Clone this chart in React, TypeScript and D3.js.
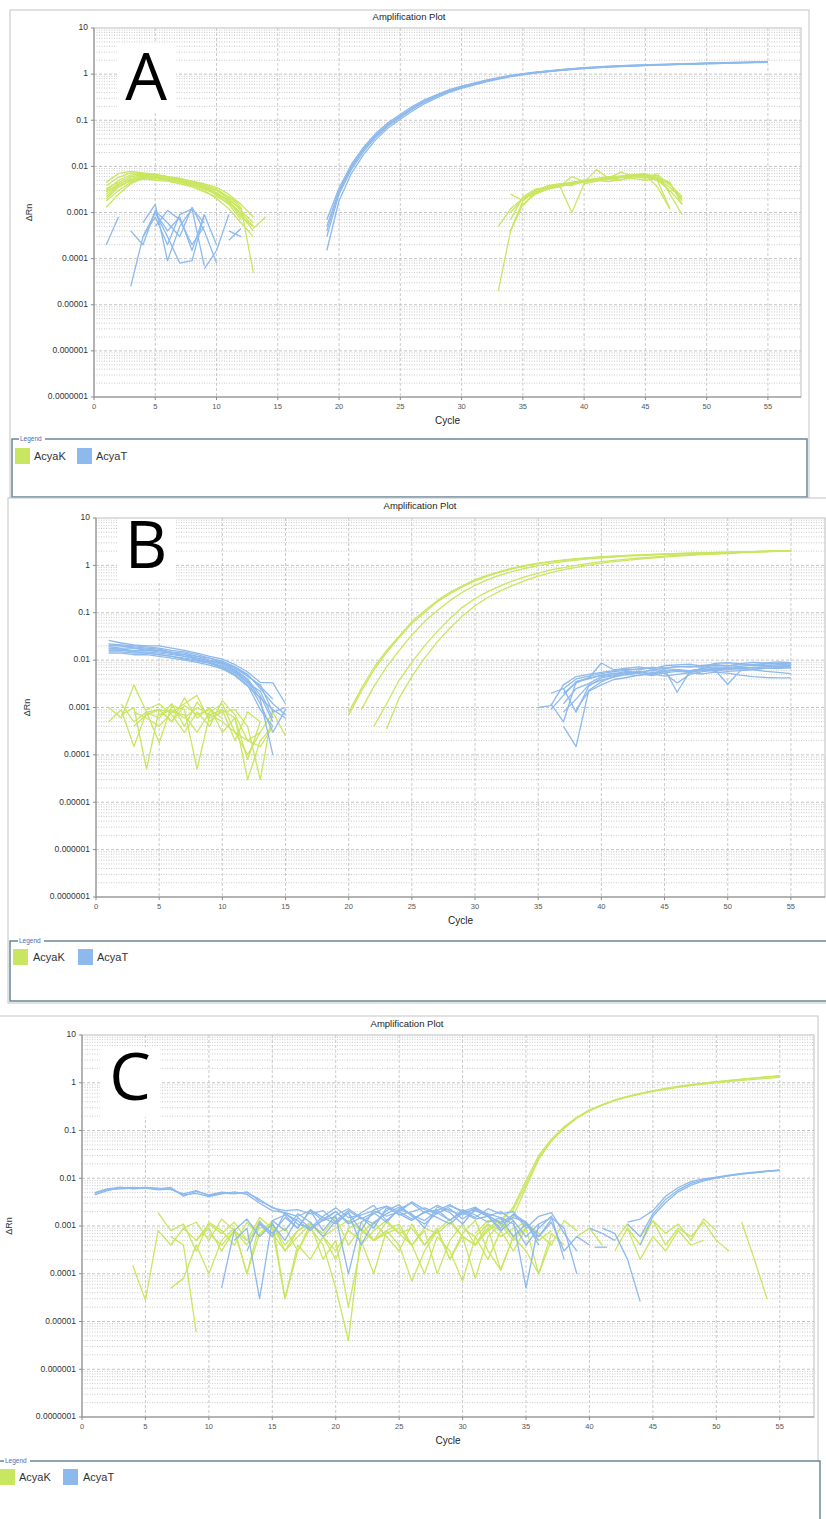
import React from "react";
import * as d3 from "d3";

type Trace = [number, (number | null)[]];

// ---------- labels / ticks ----------
const chartTitle = "Amplification Plot";
const xLabel = "Cycle";
const yLabel = "ΔRn";
const panelLetters = ["A", "B", "C"];
const seriesNames = ["AcyaK", "AcyaT"];
const seriesColors = ["#c9e660", "#8db9ec"];
const xTicks = [0, 5, 10, 15, 20, 25, 30, 35, 40, 45, 50, 55];
const yTicks = [10, 1, 0.1, 0.01, 0.001, 0.0001, 0.00001, 0.000001, 0.0000001];
const yTickLabels = ["10", "1", "0.1", "0.01", "0.001", "0.0001", "0.00001", "0.000001", "0.0000001"];
const xMax = 57.7;

// ---------- Panel A ----------
const aK: Trace[] = [
  [1, [0.0013, 0.0025, 0.0042, 0.0055, 0.006, 0.0058, 0.0055, 0.0045, 0.0035, 0.0027, 0.0018, 0.0009, 0.0004]],
  [1, [0.002, 0.0035, 0.005, 0.006, 0.0062, 0.006, 0.0052, 0.0046, 0.0038, 0.003, 0.002, 0.0011, 0.0006]],
  [1, [0.003, 0.005, 0.0065, 0.0068, 0.0065, 0.006, 0.0055, 0.0048, 0.004, 0.0032, 0.0022, 0.0013, 0.00005]],
  [1, [0.0038, 0.0058, 0.0072, 0.007, 0.0066, 0.0058, 0.005, 0.0045, 0.0036, 0.0026, 0.0017, 0.0008, 0.0005]],
  [1, [0.0045, 0.007, 0.0078, 0.0072, 0.0068, 0.006, 0.0052, 0.0047, 0.0042, 0.0035, 0.0025, 0.0015]],
  [1, [0.0025, 0.004, 0.0055, 0.0062, 0.0058, 0.0052, 0.0048, 0.0042, 0.0034, 0.0024, 0.0015, 0.0007]],
  [1, [0.0018, 0.003, 0.0045, 0.0058, 0.0055, 0.005, 0.0045, 0.0038, 0.003, 0.002, 0.0012, 0.0006, 0.0003]],
  [1, [0.0028, 0.0042, 0.0052, 0.0055, 0.005, 0.0048, 0.0042, 0.0036, 0.0028, 0.0022, 0.0016, 0.001, 0.0005]],
  [1, [0.0033, 0.0045, 0.006, 0.0065, 0.006, 0.0055, 0.0048, 0.004, 0.0032, 0.0025, 0.0019, 0.0012]],
  [1, [0.0022, 0.0038, 0.0048, 0.0052, 0.0055, 0.0054, 0.0047, 0.004, 0.0036, 0.003, 0.0022, 0.0015, 0.0008]],
  [13, [0.00045, 0.0008]],
  [33, [0.00002, 0.0004, 0.0018, 0.003, 0.0035, 0.004, 0.0045, 0.005, 0.0055, 0.006, 0.0062, 0.0065, 0.006, 0.005, 0.003, 0.0015]],
  [33, [0.0005, 0.0012, 0.002, 0.0028, 0.0033, 0.0038, 0.001, 0.0042, 0.0048, 0.0052, 0.0058, 0.006, 0.0055, 0.007, 0.0025, 0.0009]],
  [34, [0.0004, 0.0015, 0.0025, 0.0032, 0.0038, 0.0042, 0.0045, 0.0085, 0.0055, 0.005, 0.0062, 0.0058, 0.0052, 0.0035, 0.002]],
  [34, [0.0025, 0.0018, 0.003, 0.0036, 0.004, 0.0044, 0.0048, 0.005, 0.0056, 0.006, 0.0065, 0.007, 0.0048, 0.0012]],
  [34, [0.001, 0.002, 0.0026, 0.0034, 0.0036, 0.006, 0.0047, 0.0052, 0.0054, 0.0058, 0.0062, 0.0066, 0.0063, 0.0042, 0.0018]],
  [34, [0.0007, 0.0022, 0.0032, 0.0035, 0.0039, 0.0041, 0.0046, 0.0049, 0.0053, 0.0057, 0.0059, 0.0063, 0.0055, 0.0028]],
  [35, [0.0014, 0.0028, 0.0033, 0.004, 0.0045, 0.0048, 0.005, 0.0047, 0.0052, 0.0055, 0.005, 0.0055, 0.004, 0.0022]],
  [35, [0.002, 0.003, 0.0038, 0.0042, 0.0038, 0.005, 0.0053, 0.0056, 0.0075, 0.006, 0.0068, 0.0035, 0.0012]],
  [36, [0.0025, 0.0032, 0.0036, 0.0043, 0.0046, 0.0051, 0.0058, 0.006, 0.0062, 0.0066, 0.0058, 0.0045, 0.0015]],
];

const aT: Trace[] = [
  [1, [0.0002, 0.0008]],
  [3, [0.000025, 0.0003, 0.0008, 0.0002, 0.0009, 0.0012, 0.0006]],
  [4, [0.0003, 0.001, 0.0004, 0.0008, 0.00015, 0.0009]],
  [4, [0.0006, 0.0015, 0.00009, 0.0005, 0.0012, 0.00007]],
  [3, [0.0004, 0.0002, 0.0011, 0.0006, 0.0003, 0.0013, 0.0004, 0.00008]],
  [5, [0.001, 0.0003, 0.00008, 0.00009, 0.0009, 0.0002]],
  [5, [0.0005, 0.0011, 0.0007, 0.0002, 0.0005]],
  [9, [0.00006, 0.00015, 0.0009]],
  [11, [0.0004, 0.0003]],
  [11, [0.00025, 0.00045]],
  [19, [0.00015, 0.0018, 0.007, 0.018, 0.038, 0.068, 0.105, 0.16, 0.23, 0.31, 0.4, 0.49, 0.58, 0.68, 0.78, 0.88, 0.97, 1.05, 1.12, 1.19, 1.26, 1.32, 1.37, 1.42, 1.46, 1.5, 1.53, 1.56, 1.59, 1.62, 1.65, 1.68, 1.7, 1.73, 1.75, 1.77, 1.79]],
  [19, [0.0003, 0.0025, 0.0085, 0.021, 0.043, 0.075, 0.115, 0.175, 0.25, 0.33, 0.42, 0.51, 0.6, 0.7, 0.8, 0.9, 0.99, 1.07, 1.14, 1.21, 1.28, 1.34, 1.39, 1.44, 1.48, 1.52, 1.55, 1.58, 1.61, 1.64, 1.67, 1.7, 1.72, 1.75, 1.77, 1.79, 1.81]],
  [19, [0.0005, 0.003, 0.01, 0.024, 0.048, 0.082, 0.125, 0.185, 0.26, 0.345, 0.44, 0.53, 0.62, 0.72, 0.82, 0.92, 1.01, 1.09, 1.16, 1.23, 1.3, 1.36, 1.41, 1.46, 1.5, 1.54, 1.57, 1.6, 1.63, 1.66, 1.69, 1.72, 1.74, 1.77, 1.79, 1.81, 1.83]],
  [19, [0.0007, 0.0034, 0.011, 0.026, 0.052, 0.088, 0.135, 0.2, 0.28, 0.36, 0.46, 0.55, 0.64, 0.74, 0.84, 0.94, 1.03, 1.11, 1.18, 1.25, 1.32, 1.38, 1.43, 1.48, 1.52, 1.56, 1.59, 1.62, 1.65, 1.68, 1.71, 1.74, 1.76, 1.79, 1.81, 1.83, 1.85]],
  [19, [0.0004, 0.0028, 0.0095, 0.023, 0.046, 0.08, 0.12, 0.18, 0.255, 0.34, 0.43, 0.52, 0.61, 0.71, 0.81, 0.91, 1.0, 1.08, 1.15, 1.22, 1.29, 1.35, 1.4, 1.45, 1.49, 1.53, 1.56, 1.59, 1.62, 1.65, 1.68, 1.71, 1.73, 1.76, 1.78, 1.8, 1.82]],
];

// ---------- Panel B ----------
const bK: Trace[] = [
  [1, [0.001, 0.0006, 0.003, 0.0008, 0.0009, 0.0005, 0.0011, 0.0007, 0.0009, 0.0006]],
  [1, [0.0005, 0.0009, 0.00015, 0.0008, 0.0006, 0.0012, 0.0004, 0.0013, 0.0006, 0.0008, 0.0009, 0.0004, 0.00003, 0.0009]],
  [2, [0.0007, 0.001, 0.00005, 0.0009, 0.0008, 0.0007, 0.0003, 0.0008, 0.0012, 0.0003, 0.0001, 0.0003]],
  [2, [0.0012, 0.0005, 0.0008, 0.00018, 0.0011, 0.0009, 0.00005, 0.0007, 0.0009, 0.0006, 0.00008, 0.0005]],
  [3, [0.0004, 0.0007, 0.0009, 0.0005, 0.0016, 0.0006, 0.001, 0.0003, 0.0006, 0.00003, 0.0002, 0.0004]],
  [3, [0.0008, 0.0006, 0.0004, 0.0008, 0.0012, 0.0018, 0.0005, 0.0009, 0.0002, 0.0008, 0.0005]],
  [4, [0.0009, 0.0012, 0.0007, 0.0003, 0.0008, 0.0004, 0.0014, 0.0007, 0.0002, 0.0003, 0.0008, 0.00025]],
  [5, [0.0007, 0.0009, 0.0006, 0.001, 0.0007, 0.0005, 0.0003, 0.0002, 0.00015, 0.0004]],
  [20, [0.0008, 0.0025, 0.007, 0.016, 0.032, 0.065, 0.11, 0.18, 0.27, 0.37, 0.5, 0.62, 0.75, 0.88, 1.0, 1.12, 1.22, 1.3, 1.38, 1.45, 1.52, 1.57, 1.62, 1.66, 1.7, 1.74, 1.78, 1.81, 1.84, 1.87, 1.9, 1.93, 1.96, 1.99, 2.02, 2.05]],
  [20, [0.0007, 0.0022, 0.0062, 0.0145, 0.03, 0.06, 0.1, 0.17, 0.25, 0.35, 0.47, 0.59, 0.72, 0.85, 0.97, 1.09, 1.19, 1.28, 1.36, 1.43, 1.5, 1.56, 1.61, 1.65, 1.69, 1.73, 1.77, 1.8, 1.83, 1.86, 1.89, 1.92, 1.95, 1.98, 2.01, 2.04]],
  [21, [0.0009, 0.0028, 0.0072, 0.016, 0.034, 0.065, 0.11, 0.18, 0.27, 0.38, 0.5, 0.62, 0.75, 0.87, 0.99, 1.1, 1.2, 1.29, 1.37, 1.44, 1.5, 1.56, 1.61, 1.65, 1.7, 1.74, 1.78, 1.81, 1.85, 1.88, 1.91, 1.94, 1.97, 2.0, 2.03]],
  [22, [0.0004, 0.0012, 0.0038, 0.009, 0.02, 0.04, 0.075, 0.13, 0.2, 0.28, 0.37, 0.47, 0.58, 0.69, 0.8, 0.9, 1.0, 1.1, 1.2, 1.28, 1.36, 1.43, 1.5, 1.56, 1.62, 1.68, 1.73, 1.78, 1.83, 1.88, 1.92, 1.96, 2.0, 2.04]],
  [23, [0.00035, 0.0016, 0.0045, 0.011, 0.024, 0.047, 0.085, 0.14, 0.21, 0.29, 0.38, 0.48, 0.59, 0.7, 0.81, 0.91, 1.01, 1.11, 1.2, 1.28, 1.36, 1.43, 1.5, 1.56, 1.62, 1.68, 1.73, 1.78, 1.83, 1.88, 1.93, 1.98, 2.02]],
];

const bT: Trace[] = [
  [1, [0.026, 0.023, 0.021, 0.02, 0.02, 0.018, 0.016, 0.014, 0.012, 0.0105, 0.008, 0.0056, 0.0034, 0.0033, 0.0012]],
  [1, [0.022, 0.021, 0.02, 0.019, 0.018, 0.016, 0.015, 0.013, 0.011, 0.0095, 0.0072, 0.005, 0.0025, 0.0012, 0.0007]],
  [1, [0.02, 0.02, 0.019, 0.018, 0.017, 0.015, 0.014, 0.012, 0.011, 0.009, 0.0068, 0.0045, 0.003, 0.0008, 0.001]],
  [1, [0.019, 0.018, 0.018, 0.016, 0.016, 0.014, 0.013, 0.011, 0.0095, 0.0085, 0.0063, 0.004, 0.0018, 0.0005]],
  [1, [0.018, 0.017, 0.016, 0.016, 0.015, 0.014, 0.012, 0.011, 0.0095, 0.008, 0.006, 0.0038, 0.0015, 0.0001]],
  [1, [0.017, 0.017, 0.015, 0.015, 0.014, 0.013, 0.012, 0.0105, 0.009, 0.0075, 0.0057, 0.0035, 0.0012, 0.0003, 0.0009]],
  [1, [0.016, 0.016, 0.015, 0.014, 0.013, 0.012, 0.011, 0.01, 0.0088, 0.007, 0.0054, 0.0033, 0.0022, 0.0006]],
  [1, [0.015, 0.015, 0.014, 0.014, 0.013, 0.012, 0.0105, 0.0095, 0.0085, 0.0068, 0.005, 0.003, 0.0009, 0.0004]],
  [1, [0.014, 0.014, 0.013, 0.013, 0.012, 0.011, 0.01, 0.009, 0.0078, 0.0065, 0.0047, 0.0028, 0.0016, 0.0009, 0.0006]],
  [1, [0.021, 0.02, 0.018, 0.017, 0.016, 0.014, 0.013, 0.012, 0.01, 0.0088, 0.007, 0.0048, 0.0028, 0.0015]],
  [35, [0.001, 0.0011, 0.003, 0.0045, 0.005, 0.0055, 0.006, 0.0065, 0.0062, 0.007, 0.0068, 0.0072, 0.0075, 0.007, 0.0078, 0.0075, 0.008, 0.0078, 0.0082, 0.0085, 0.0088]],
  [36, [0.0012, 0.0005, 0.0035, 0.004, 0.0048, 0.0052, 0.0058, 0.0055, 0.0062, 0.0066, 0.0063, 0.0055, 0.0068, 0.0072, 0.007, 0.0074, 0.0078, 0.0076, 0.008, 0.0082]],
  [36, [0.002, 0.0025, 0.0008, 0.0028, 0.0042, 0.0047, 0.0053, 0.0058, 0.0051, 0.0064, 0.0021, 0.0058, 0.0062, 0.0068, 0.0066, 0.0065, 0.007, 0.0072, 0.0075, 0.0073]],
  [37, [0.0004, 0.00015, 0.0023, 0.0035, 0.0045, 0.0052, 0.0056, 0.005, 0.0058, 0.0062, 0.006, 0.0065, 0.0058, 0.0067, 0.0071, 0.0068, 0.0073, 0.0075, 0.0078]],
  [37, [0.0008, 0.0015, 0.003, 0.0038, 0.0044, 0.005, 0.0047, 0.0055, 0.0053, 0.0033, 0.005, 0.0057, 0.0061, 0.0058, 0.006, 0.0064, 0.0068, 0.0066, 0.007]],
  [36, [0.0009, 0.0018, 0.0035, 0.0042, 0.0047, 0.0053, 0.0049, 0.0056, 0.006, 0.0058, 0.0062, 0.0059, 0.0066, 0.0062, 0.0031, 0.006, 0.0064, 0.0067, 0.007, 0.0068]],
  [37, [0.0012, 0.0025, 0.0032, 0.0045, 0.0049, 0.0055, 0.0052, 0.0047, 0.0054, 0.0058, 0.0055, 0.006, 0.0065, 0.0063, 0.0067, 0.0062, 0.0058, 0.0055, 0.0052]],
  [37, [0.002, 0.0033, 0.0042, 0.0087, 0.0062, 0.0068, 0.0072, 0.0065, 0.0076, 0.0079, 0.0082, 0.0074, 0.0085, 0.0088, 0.0084, 0.009, 0.0087, 0.0092, 0.0088]],
  [38, [0.0009, 0.0022, 0.003, 0.0039, 0.0043, 0.0048, 0.0051, 0.0046, 0.005, 0.0054, 0.0051, 0.0056, 0.0053, 0.0048, 0.0045, 0.0043, 0.0042, 0.0042]],
  [37, [0.0025, 0.004, 0.0046, 0.0052, 0.0057, 0.0061, 0.0066, 0.007, 0.0068, 0.0074, 0.0071, 0.0077, 0.008, 0.0076, 0.0083, 0.008, 0.0086, 0.0084, 0.0089]],
];

// ---------- Panel C ----------
const cK: Trace[] = [
  [4, [0.00015, 0.000028, 0.0008, 0.0004, 0.0009, 0.0005, 0.0011, 0.0007, 0.0012, 0.0005, 0.0009, 0.0011, 0.0004, 0.0008, 0.0012, 0.0006, 0.0002, 0.0009, 0.0012, 0.0005, 0.0008, 0.0011, 0.0004, 0.0009, 0.0007, 0.0012, 0.0006, 0.0004, 0.0009, 0.00012, 0.0006, 0.0011, 0.0005, 0.0008]],
  [6, [0.0019, 0.0008, 0.0011, 0.0003, 0.0012, 0.0008, 0.0004, 0.0012, 0.0006, 0.0013, 0.00003, 0.0003, 0.0009, 0.0004, 0.00005, 0.000004, 0.0007, 0.0012, 0.0006, 0.0003, 0.0011, 0.0004, 0.0009, 0.0002, 0.0007, 0.0013, 0.0003, 0.00012, 0.0006, 0.0009]],
  [7, [0.0006, 0.0004, 0.000006]],
  [7, [0.00005, 0.00008, 0.0004, 0.0001, 0.0005, 0.0009, 0.0001, 0.0011, 0.0007, 0.0003, 0.0008, 0.0011, 0.0002, 0.0005, 0.00002, 0.0004, 0.0008, 0.0013, 0.0007, 0.0004, 0.0001, 0.0006, 0.0003, 0.00007, 0.0006, 0.0002, 0.0008, 0.0003, 0.0009, 0.0001, 0.0007, 0.0004]],
  [8, [0.0009, 0.0012, 0.0005, 0.0014, 0.0008, 0.0004, 0.0013, 0.0006, 0.0009, 0.0003, 0.0011, 0.0006, 0.0009, 0.0013, 0.0008, 0.0005, 0.0012, 0.0007, 0.0009, 0.0004, 0.0008, 0.0014, 0.0006, 0.00008, 0.0006, 0.0011, 0.0005, 0.0009]],
  [9, [0.0005, 0.0009, 0.0003, 0.0008, 0.0001, 0.0007, 0.0012, 0.0003, 0.0006, 0.0011, 0.0007, 0.0015, 0.0004, 0.0009, 0.0005, 0.0007, 0.0009, 0.0004, 0.0008, 0.0001, 0.0005, 0.0011, 0.0004, 0.0008, 0.0012, 0.0006, 0.0003, 0.0001, 0.0005]],
  [10, [0.0007, 0.0004, 0.0008, 0.0005, 0.0015, 0.0009, 0.00003, 0.0004, 0.0002, 0.0006, 0.0003, 0.0008, 0.0005, 0.0001, 0.0008, 0.0004, 0.00007, 0.0003, 0.0008, 0.0002, 0.0006, 0.0004, 0.0011, 0.0006, 0.0009, 0.0012, 0.0007, 0.0004, 0.0013, 0.0008]],
  [42, [0.0005, 0.0011, 0.0006, 0.0013, 0.0004, 0.0009, 0.0006, 0.0012, 0.0005, 0.0003]],
  [43, [0.0009, 0.0004, 0.0013, 0.0007, 0.0011, 0.0005, 0.0014, 0.0008]],
  [42, [0.0003, 0.0009, 0.0002, 0.0006, 0.0003, 0.0008, 0.0004, 0.0005]],
  [52, [0.0012, 0.0002, 0.00003]],
  [39, [0.0006, 0.0009, 0.0004]],
  [30, [0.0009, 0.0006, 0.0011, 0.0008, 0.0016, 0.0065, 0.025, 0.06, 0.11, 0.18, 0.26, 0.34, 0.42, 0.5, 0.58, 0.66, 0.73, 0.8, 0.87, 0.94, 1.0, 1.06, 1.12, 1.18, 1.24, 1.3]],
  [31, [0.0007, 0.0013, 0.0012, 0.0025, 0.009, 0.03, 0.066, 0.12, 0.19, 0.27, 0.35, 0.44, 0.52, 0.6, 0.68, 0.76, 0.84, 0.91, 0.98, 1.05, 1.12, 1.19, 1.26, 1.33, 1.4]],
  [32, [0.0009, 0.0014, 0.0022, 0.0075, 0.027, 0.062, 0.115, 0.185, 0.26, 0.34, 0.43, 0.51, 0.59, 0.67, 0.75, 0.83, 0.9, 0.97, 1.04, 1.11, 1.18, 1.25, 1.32, 1.38]],
];

const cT: Trace[] = [
  [1, [0.0045, 0.0055, 0.0063, 0.0064, 0.0062, 0.006, 0.0064, 0.0042, 0.0053, 0.0045, 0.0051, 0.0049, 0.005, 0.0036, 0.0024, 0.0021, 0.0022, 0.0018, 0.0021, 0.0012, 0.0019, 0.0008, 0.0022, 0.0026, 0.0017, 0.002, 0.0024, 0.0019, 0.0013, 0.0022, 0.0017, 0.0012, 0.0015, 0.0006, 0.0011, 0.0005]],
  [1, [0.005, 0.006, 0.0065, 0.006, 0.0062, 0.0057, 0.006, 0.0045, 0.0048, 0.0041, 0.0047, 0.0052, 0.0046, 0.003, 0.0021, 0.0019, 0.0016, 0.0021, 0.0008, 0.0017, 0.0023, 0.0015, 0.0011, 0.0021, 0.0028, 0.0016, 0.0011, 0.0019, 0.0023, 0.0014, 0.0021, 0.0016, 0.0009, 0.0018, 0.0012, 0.0004]],
  [1, [0.0048, 0.0058, 0.006, 0.0062, 0.0064, 0.0062, 0.0058, 0.0047, 0.0055, 0.0043, 0.0049, 0.0047, 0.0052, 0.0033, 0.0025, 0.0018, 0.0013, 0.0008, 0.0014, 0.002, 0.0012, 0.0019, 0.0027, 0.0013, 0.0022, 0.0018, 0.0009, 0.0025, 0.0019, 0.0011, 0.0023, 0.0018, 0.0015, 0.0011, 0.0004, 0.0009, 0.0016, 0.0002]],
  [11, [0.00005, 0.0008, 0.0014, 0.0006, 0.0011, 0.0005, 0.0015, 0.0009, 0.0013, 0.002, 0.0011, 0.0015, 0.0009, 0.0024, 0.0018, 0.0013, 0.002, 0.0015, 0.0011, 0.0019, 0.0014, 0.0016, 0.0008, 0.0013, 0.0006, 0.0011]],
  [12, [0.0005, 0.0009, 0.00003, 0.0013, 0.0008, 0.0018, 0.0012, 0.0006, 0.0013, 0.0021, 0.0014, 0.0019, 0.0012, 0.0023, 0.003, 0.0019, 0.0022, 0.0013, 0.002, 0.0025, 0.0016, 0.002, 0.0013, 0.00005, 0.0011, 0.0015, 0.0009, 0.0001]],
  [13, [0.0003, 0.0012, 0.0007, 0.0015, 0.0009, 0.0022, 0.0015, 0.0011, 0.0019, 0.0004, 0.0012, 0.0018, 0.0025, 0.0017, 0.0013, 0.0021, 0.0028, 0.0019, 0.0022, 0.0016, 0.0012, 0.0017, 0.0011, 0.0006, 0.0012, 0.0003, 0.0006, 0.0004]],
  [14, [0.0011, 0.0006, 0.0019, 0.0011, 0.0009, 0.0016, 0.0024, 0.0015, 0.0017, 0.0021, 0.0016, 0.002, 0.0032, 0.0022, 0.0018, 0.0026, 0.0021, 0.0015, 0.0023, 0.0018, 0.002, 0.0009, 0.0016, 0.0019, 0.0007, 0.0003]],
  [15, [0.0013, 0.0017, 0.0009, 0.0021, 0.0013, 0.0016, 0.0001, 0.0012, 0.0018, 0.0026, 0.002, 0.0014, 0.0019, 0.0027, 0.0021, 0.0017, 0.0024, 0.0017, 0.0011, 0.0015, 0.0012, 0.0006, 0.0014]],
  [40, [0.0009, 0.0007, 0.0005]],
  [40.4, [0.00036, 0.00036]],
  [41, [0.0009, 0.0007, 0.0002, 0.000026]],
  [43, [0.0012, 0.0014, 0.0021, 0.0042, 0.0064, 0.0085, 0.0097, 0.0106, 0.0116, 0.0126, 0.0134, 0.0142, 0.0148]],
  [43, [0.0011, 0.0006, 0.0018, 0.0036, 0.0057, 0.0078, 0.0092, 0.0103, 0.0114, 0.0123, 0.0131, 0.014, 0.0147]],
  [44, [0.0004, 0.0016, 0.0031, 0.0052, 0.0072, 0.0088, 0.0101, 0.0112, 0.0122, 0.013, 0.0139, 0.0146]],
];

const panelData: Trace[][][] = [
  [aK, aT],
  [bK, bT],
  [cK, cT],
];

// ---------- layout (positions only) ----------
const layouts = [
  {
    frame: [10, 10, 799, 488], plot: [94, 801, 28, 397], title: [409, 17], cycleY: 421, ylabX: 30,
    letterBox: [117, 43, 59, 69], letterXY: [146, 100], legend: [12, 439, 795, 58], legendLabelX: 20,
    swK: 15, swT: 77, swY: 448, textK: 34, textT: 96, legendTextY: 457,
  },
  {
    frame: [8, 498, 840, 505], plot: [96, 825, 518, 897], title: [420, 506], cycleY: 921, ylabX: 28,
    letterBox: [117, 515, 59, 68], letterXY: [146, 568], legend: [10, 941, 840, 60], legendLabelX: 19,
    swK: 13, swT: 78, swY: 949, textK: 33, textT: 97, legendTextY: 958,
  },
  {
    frame: [-2, 1016, 820, 520], plot: [82, 814, 1035, 1417], title: [407, 1024], cycleY: 1441, ylabX: 10,
    letterBox: [100, 1047, 60, 70], letterXY: [130, 1100], legend: [-2, 1461, 822, 80], legendLabelX: 5,
    swK: 0, swT: 63, swY: 1469, textK: 19, textT: 83, legendTextY: 1478,
  },
];

const FONT = "'Liberation Sans', Arial, sans-serif";

function Panel({ idx }: { idx: number }) {
  const L = layouts[idx];
  const [px0, px1, py0, py1] = L.plot;
  const x = d3.scaleLinear().domain([0, xMax]).range([px0, px1]);
  const y = d3.scaleLog().domain([1e-7, 10]).range([py1, py0]);
  const line = d3
    .line<[number, number | null]>()
    .defined((d) => d[1] != null && (d[1] as number) > 0)
    .x((d) => x(d[0]))
    .y((d) => y(d[1] as number));

  const minor: number[] = [];
  for (let e = -7; e < 1; e++) for (let m = 2; m <= 9; m++) minor.push(m * Math.pow(10, e));

  const clipId = `clip${idx}`;
  const [fx, fy, fw, fh] = L.frame;
  const [lx, ly, lw, lh] = L.legend;

  return (
    <g>
      <rect x={fx} y={fy} width={fw} height={fh} fill="#fff" stroke="#c4c4c4" strokeWidth={1} />
      <text x={L.title[0]} y={L.title[1]} textAnchor="middle" dominantBaseline="middle" fontFamily={FONT} fontSize={9.5} fill="#222">
        {chartTitle}
      </text>
      <clipPath id={clipId}>
        <rect x={px0} y={py0} width={px1 - px0} height={py1 - py0} />
      </clipPath>
      <rect x={px0} y={py0} width={px1 - px0} height={py1 - py0} fill="#fff" />
      {/* grid */}
      <g>
        {minor.map((v, i) => (
          <line key={"m" + i} x1={px0} x2={px1} y1={y(v)} y2={y(v)} stroke="#bdbdbd" strokeWidth={0.8} strokeDasharray="1,1.5" />
        ))}
        {yTicks.slice(1, -1).map((v, i) => (
          <line key={"h" + i} x1={px0} x2={px1} y1={y(v)} y2={y(v)} stroke="#bcbcbc" strokeWidth={0.9} strokeDasharray="3,2" />
        ))}
        {xTicks.slice(1).map((v, i) => (
          <line key={"v" + i} x1={x(v)} x2={x(v)} y1={py0} y2={py1} stroke="#c4c4c4" strokeWidth={0.9} strokeDasharray="3,2" />
        ))}
      </g>
      {/* panel letter */}
      <rect x={L.letterBox[0]} y={L.letterBox[1]} width={L.letterBox[2]} height={L.letterBox[3]} fill="#fff" />
      <text x={L.letterXY[0]} y={L.letterXY[1]} textAnchor="middle" fontFamily="'Open Sans', 'Noto Sans', sans-serif" fontSize={66} fill="#000">
        {panelLetters[idx]}
      </text>
      {/* data */}
      <g clipPath={`url(#${clipId})`} fill="none">
        {panelData[idx].map((traces, s) =>
          traces.map((t, i) => {
            const pts: [number, number | null][] = t[1].map((v, k) => [t[0] + k, v]);
            return (
              <path key={s + "-" + i} d={line(pts) || ""} stroke={seriesColors[s]} strokeWidth={1.3} strokeLinejoin="round" />
            );
          })
        )}
      </g>
      {/* plot border and axes */}
      <rect x={px0} y={py0} width={px1 - px0} height={py1 - py0} fill="none" stroke="#bdbdbd" strokeWidth={1} />
      <line x1={px0} x2={px0} y1={py0} y2={py1} stroke="#8a8a8a" strokeWidth={1} />
      <line x1={px0} x2={px1} y1={py1} y2={py1} stroke="#8a8a8a" strokeWidth={1} />
      {yTicks.map((v, i) => (
        <g key={"yt" + i}>
          <line x1={px0 - 3} x2={px0} y1={y(v)} y2={y(v)} stroke="#8a8a8a" />
          <text x={px0 - 6} y={y(v)} textAnchor="end" dominantBaseline="middle" fontFamily={FONT} fontSize={8.5} fill="#333">
            {yTickLabels[i]}
          </text>
        </g>
      ))}
      {xTicks.map((v, i) => (
        <g key={"xt" + i}>
          <line x1={x(v)} x2={x(v)} y1={py1} y2={py1 + 3} stroke="#8a8a8a" />
          <text x={x(v)} y={py1 + 10} textAnchor="middle" dominantBaseline="middle" fontFamily={FONT} fontSize={7.5} fill="#555">
            {v}
          </text>
        </g>
      ))}
      <text x={(px0 + px1) / 2} y={L.cycleY} textAnchor="middle" dominantBaseline="middle" fontFamily={FONT} fontSize={10} fill="#222">
        {xLabel}
      </text>
      <text
        transform={`translate(${L.ylabX},${(py0 + py1) / 2}) rotate(-90)`}
        textAnchor="middle"
        dominantBaseline="middle"
        fontFamily={FONT}
        fontSize={9}
        fill="#333"
      >
        {yLabel}
      </text>
      {/* legend */}
      <rect x={lx} y={ly} width={lw} height={lh} fill="#fff" stroke="#6b8799" strokeWidth={1.5} />
      <rect x={L.legendLabelX - 1} y={ly - 4} width={26} height={8} fill="#fff" />
      <text x={L.legendLabelX} y={ly} dominantBaseline="middle" fontFamily={FONT} fontSize={6.5} fill="#4d6cb0">
        Legend
      </text>
      <rect x={L.swK} y={L.swY} width={15} height={16} fill={seriesColors[0]} />
      <text x={L.textK} y={L.legendTextY} dominantBaseline="middle" fontFamily={FONT} fontSize={11} fill="#333">
        {seriesNames[0]}
      </text>
      <rect x={L.swT} y={L.swY} width={15} height={16} fill={seriesColors[1]} />
      <text x={L.textT} y={L.legendTextY} dominantBaseline="middle" fontFamily={FONT} fontSize={11} fill="#333">
        {seriesNames[1]}
      </text>
    </g>
  );
}

export default function App() {
  return (
    <div style={{ position: "absolute", left: 0, top: 0, width: 826, height: 1519, background: "#fff" }}>
      <svg width={826} height={1519} style={{ display: "block" }}>
        <rect x={0} y={0} width={826} height={1519} fill="#fff" />
        <Panel idx={0} />
        <Panel idx={1} />
        <Panel idx={2} />
      </svg>
    </div>
  );
}
